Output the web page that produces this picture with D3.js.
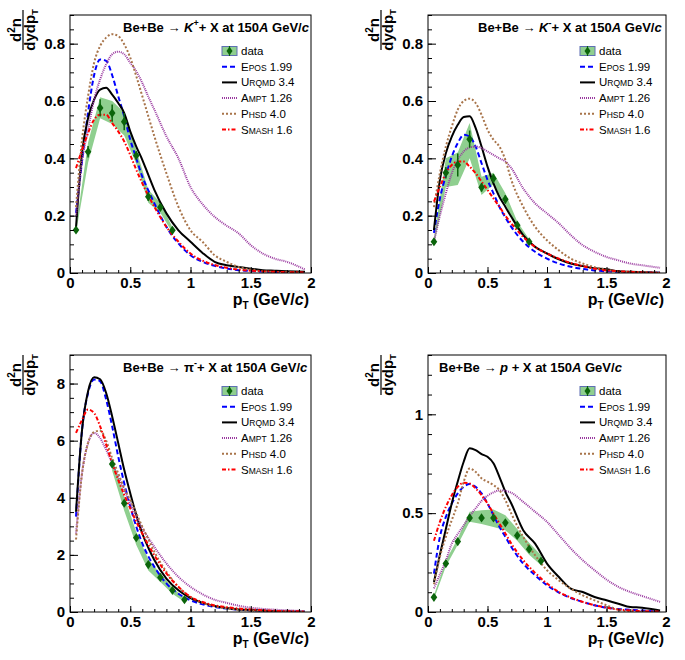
<!DOCTYPE html>
<html><head><meta charset="utf-8">
<script src="https://cdn.jsdelivr.net/npm/d3@7"></script>
<style>
body{margin:0;background:#fff}
svg{display:block}
text{font-family:"Liberation Sans",Arial,Helvetica,sans-serif}
</style>
</head><body>
<svg id="c" width="685" height="660"></svg>
<script>
// ---------------- DATA ----------------
const modelGrid = [0.05,0.1,0.15,0.2,0.25,0.3,0.35,0.4,0.45,0.5,0.55,0.6,0.65,0.7,0.8,0.9,1.0,1.1,1.2,1.3,1.4,1.5,1.6,1.7,1.8,1.95];
const modelKeys = ["EPOS","UrQMD","AMPT","PHSD","SMASH"];
const legendLabels = [["E","POS"," 1.99"],["U","rQMD"," 3.4"],["A","MPT"," 1.26"],["P","HSD"," 4.0"],["S","MASH"," 1.6"]];
const xTickValues = [0,0.5,1,1.5,2];
const xTickLabels = ["0","0.5","1","1.5","2"];

// K+ panel
const kpX = [0.05,0.15,0.25,0.35,0.45,0.55,0.65,0.75,0.85];
const kpY = [0.150,0.423,0.576,0.558,0.528,0.410,0.266,0.229,0.149];
const kpStat = [0.008,0.02,0.03,0.03,0.03,0.015,0.015,0.012,0.01];
const kpBandLo = [0.14,0.385,0.54,0.52,0.48,0.38,0.245,0.21,0.14];
const kpBandHi = [0.16,0.455,0.613,0.60,0.56,0.43,0.29,0.245,0.16];
const kpEPOS  = [0.21,0.39,0.56,0.69,0.745,0.74,0.69,0.617,0.547,0.465,0.40,0.336,0.288,0.243,0.161,0.103,0.062,0.039,0.025,0.016,0.01,0.007,0.005,0.003,0.002,0.001];
const kpUrQMD = [0.16,0.42,0.54,0.605,0.64,0.646,0.622,0.593,0.558,0.494,0.441,0.395,0.342,0.29,0.208,0.149,0.109,0.07,0.039,0.027,0.021,0.015,0.01,0.008,0.006,0.004];
const kpAMPT  = [0.2,0.39,0.5,0.605,0.675,0.728,0.763,0.772,0.763,0.733,0.704,0.663,0.615,0.57,0.477,0.40,0.30,0.24,0.196,0.165,0.138,0.097,0.068,0.05,0.039,0.012];
const kpPHSD  = [0.23,0.465,0.617,0.733,0.792,0.821,0.833,0.827,0.798,0.751,0.687,0.617,0.547,0.477,0.348,0.231,0.149,0.109,0.062,0.039,0.021,0.012,0.006,0.004,0.003,0.0];
const kpSMASH = [0.366,0.43,0.488,0.535,0.552,0.552,0.523,0.494,0.459,0.412,0.36,0.313,0.27,0.231,0.161,0.109,0.068,0.043,0.028,0.018,0.012,0.008,0.006,0.004,0.003,0.002];

// K- panel
const kmX = [0.05,0.15,0.25,0.35,0.45,0.55,0.65,0.75,0.85];
const kmY = [0.109,0.35,0.377,0.467,0.299,0.33,0.257,0.167,0.109];
const kmStat = [0.01,0.02,0.04,0.03,0.015,0.015,0.015,0.01,0.01];
const kmBandLo = [0.095,0.30,0.307,0.40,0.272,0.31,0.24,0.155,0.10];
const kmBandHi = [0.12,0.40,0.42,0.523,0.336,0.35,0.278,0.18,0.118];
const kmEPOS  = [0.14,0.26,0.34,0.406,0.453,0.482,0.476,0.441,0.383,0.325,0.278,0.231,0.194,0.161,0.109,0.074,0.05,0.033,0.022,0.014,0.009,0.006,0.004,0.003,0.002,0.001];
const kmUrQMD = [0.15,0.325,0.418,0.476,0.517,0.544,0.547,0.506,0.441,0.371,0.313,0.266,0.231,0.196,0.132,0.091,0.068,0.048,0.033,0.024,0.017,0.013,0.006,0.004,0.003,0.001];
const kmAMPT  = [0.11,0.2,0.278,0.348,0.395,0.424,0.438,0.441,0.436,0.424,0.412,0.40,0.389,0.366,0.295,0.243,0.208,0.173,0.132,0.097,0.074,0.056,0.044,0.033,0.027,0.018];
const kmPHSD  = [0.23,0.348,0.441,0.511,0.57,0.60,0.608,0.593,0.552,0.50,0.465,0.441,0.395,0.325,0.231,0.161,0.114,0.079,0.05,0.033,0.02,0.012,0.005,0.003,0.002,0.0];
const kmSMASH = [0.249,0.301,0.348,0.377,0.389,0.389,0.371,0.348,0.319,0.29,0.26,0.231,0.20,0.173,0.126,0.091,0.068,0.05,0.035,0.024,0.015,0.009,0.006,0.004,0.002,0.001];

// pi- panel
const piX = [0.35,0.45,0.55,0.65,0.75,0.85,0.95];
const piY = [5.18,3.81,2.60,1.66,1.21,0.76,0.43];
const piStat = [0.1,0.1,0.08,0.06,0.05,0.04,0.03];
const piBandLo = [4.95,3.55,2.35,1.45,1.05,0.64,0.35];
const piBandHi = [5.40,4.05,2.80,1.85,1.35,0.86,0.50];
const piEPOS  = [3.34,6.38,7.67,8.14,8.08,7.44,6.5,5.45,4.51,3.69,2.99,2.4,1.95,1.58,1.0,0.64,0.41,0.27,0.18,0.12,0.08,0.06,0.04,0.03,0.02,0.01];
const piUrQMD = [3.51,6.38,7.73,8.22,8.15,7.67,6.85,5.92,4.98,4.16,3.4,2.75,2.25,1.82,1.17,0.76,0.49,0.32,0.21,0.14,0.09,0.07,0.05,0.03,0.02,0.01];
const piAMPT  = [2.75,4.86,5.92,6.27,6.09,5.68,5.21,4.74,4.28,3.81,3.34,2.93,2.6,2.28,1.7,1.23,0.88,0.62,0.43,0.32,0.22,0.15,0.11,0.08,0.06,0.03];
const piPHSD  = [2.54,4.86,5.92,6.3,6.35,6.0,5.39,4.86,4.33,3.92,3.46,2.99,2.55,2.11,1.41,0.88,0.53,0.32,0.2,0.13,0.08,0.05,0.03,0.02,0.01,0.0];
const piSMASH = [6.27,6.73,7.09,6.97,6.5,5.86,5.21,4.63,4.1,3.63,3.16,2.75,2.35,1.99,1.35,0.88,0.53,0.35,0.23,0.17,0.12,0.09,0.06,0.04,0.03,0.02];

// p panel
const prX = [0.05,0.15,0.25,0.35,0.45,0.55,0.65,0.75,0.85,0.95];
const prY = [0.074,0.245,0.356,0.476,0.476,0.476,0.451,0.387,0.318,0.258];
const prStat = [0.01,0.01,0.01,0.015,0.015,0.015,0.015,0.015,0.015,0.015];
const prBandLo = [0.065,0.23,0.34,0.456,0.445,0.43,0.414,0.36,0.29,0.237];
const prBandHi = [0.085,0.26,0.372,0.507,0.515,0.519,0.49,0.42,0.35,0.287];
const prEPOS  = [0.194,0.38,0.481,0.549,0.60,0.633,0.647,0.633,0.60,0.549,0.49,0.431,0.38,0.329,0.245,0.186,0.135,0.098,0.071,0.051,0.034,0.022,0.015,0.011,0.007,0.003];
const prUrQMD = [0.152,0.29,0.42,0.55,0.66,0.76,0.828,0.819,0.799,0.785,0.752,0.684,0.608,0.549,0.414,0.346,0.245,0.177,0.118,0.101,0.076,0.059,0.042,0.025,0.022,0.008];
const prAMPT  = [0.12,0.19,0.26,0.346,0.394,0.439,0.485,0.524,0.562,0.588,0.605,0.615,0.613,0.603,0.557,0.507,0.456,0.389,0.321,0.262,0.211,0.164,0.127,0.101,0.081,0.051];
const prPHSD  = [0.14,0.279,0.38,0.465,0.549,0.659,0.726,0.709,0.676,0.659,0.642,0.617,0.566,0.498,0.38,0.287,0.211,0.16,0.118,0.084,0.059,0.034,0.012,0.003,0.001,0.0];
const prSMASH = [0.36,0.456,0.532,0.591,0.633,0.654,0.65,0.625,0.591,0.549,0.498,0.448,0.397,0.346,0.262,0.198,0.144,0.101,0.073,0.051,0.034,0.022,0.012,0.008,0.005,0.002];

// titles: [text, style] style: n normal, i italic, s superscript
const kpTitle = [["Be+Be ","n"],["\u2192","n"],[" ","n"],["K","i"],["+","s"],["+ X at 150","n"],["A","i"],[" GeV/","n"],["c","i"]];
const kmTitle = [["Be+Be ","n"],["\u2192","n"],[" ","n"],["K","i"],["-","s"],["+ X at 150","n"],["A","i"],[" GeV/","n"],["c","i"]];
const piTitle = [["Be+Be ","n"],["\u2192","n"],["  \u03c0","n"],["-","s"],["+ X at 150","n"],["A","i"],[" GeV/","n"],["c","i"]];
const prTitle = [["Be+Be ","n"],["\u2192","n"],[" ","n"],["p","i"],[" + X at 150","n"],["A","i"],[" GeV/","n"],["c","i"]];

const kpYTicks = [0,0.2,0.4,0.6,0.8], kpYLabels = ["0","0.2","0.4","0.6","0.8"];
const piYTicks = [0,2,4,6,8], piYLabels = ["0","2","4","6","8"];
const prYTicks = [0,0.5,1], prYLabels = ["0","0.5","1"];

// ---------------- STYLE / LAYOUT ----------------
const styles = {
  EPOS:  {color:"#0000ff", dash:"5,3"},
  UrQMD: {color:"#000000", dash:null},
  AMPT:  {color:"#9a3aa0", dash:"1,1"},
  PHSD:  {color:"#a8744a", dash:"2,2"},
  SMASH: {color:"#ff0000", dash:"4,2,1.5,2"}
};
const panels = [
  {left:70, top:15, w:241, h:258, ymax:0.9, yt:kpYTicks, yl:kpYLabels, yminor:0.05,
   dx:kpX, dy:kpY, stat:kpStat, lo:kpBandLo, hi:kpBandHi,
   models:{EPOS:kpEPOS,UrQMD:kpUrQMD,AMPT:kpAMPT,PHSD:kpPHSD,SMASH:kpSMASH}, title:kpTitle, tx:53, ytc:15},
  {left:428, top:15, w:238, h:258, ymax:0.9, yt:kpYTicks, yl:kpYLabels, yminor:0.05,
   dx:kmX, dy:kmY, stat:kmStat, lo:kmBandLo, hi:kmBandHi,
   models:{EPOS:kmEPOS,UrQMD:kmUrQMD,AMPT:kmAMPT,PHSD:kmPHSD,SMASH:kmSMASH}, title:kmTitle, tx:50, ytc:15},
  {left:70, top:355, w:241, h:257, ymax:9, yt:piYTicks, yl:piYLabels, yminor:0.5,
   dx:piX, dy:piY, stat:piStat, lo:piBandLo, hi:piBandHi,
   models:{EPOS:piEPOS,UrQMD:piUrQMD,AMPT:piAMPT,PHSD:piPHSD,SMASH:piSMASH}, title:piTitle, tx:53, ytc:20},
  {left:428, top:355, w:238, h:257, ymax:1.3, yt:prYTicks, yl:prYLabels, yminor:0.1,
   dx:prX, dy:prY, stat:prStat, lo:prBandLo, hi:prBandHi,
   models:{EPOS:prEPOS,UrQMD:prUrQMD,AMPT:prAMPT,PHSD:prPHSD,SMASH:prSMASH}, title:prTitle, tx:11, ytc:20}
];

const svg = d3.select("#c");
const BAND = "#8fcf8f", MARK = "#0b640b";

function diamond(cx, cy, a, b){ return `M${cx},${cy-b}L${cx+a},${cy}L${cx},${cy+b}L${cx-a},${cy}Z`; }

panels.forEach((P, pi) => {
  const g = svg.append("g");
  const x = d3.scaleLinear().domain([0,2]).range([P.left, P.left+P.w]);
  const y = d3.scaleLinear().domain([0,P.ymax]).range([P.top+P.h, P.top]);
  const cid = "clip"+pi;
  svg.append("clipPath").attr("id",cid).append("rect")
    .attr("x",P.left).attr("y",P.top).attr("width",P.w).attr("height",P.h);
  const plot = g.append("g").attr("clip-path",`url(#${cid})`);

  // band
  const bandData = P.dx.map((v,i)=>({x:v, lo:P.lo[i], hi:P.hi[i]}));
  plot.append("path").datum(bandData)
    .attr("d", d3.area().x(d=>x(d.x)).y0(d=>y(d.lo)).y1(d=>y(d.hi)))
    .attr("fill", BAND).attr("stroke","none");

  // models
  const line = d3.line().x(d=>x(d[0])).y(d=>y(d[1])).curve(d3.curveMonotoneX);
  modelKeys.forEach(k => {
    const pts = modelGrid.map((v,i)=>[v, P.models[k][i]]);
    const s = styles[k];
    plot.append("path").datum(pts).attr("d", line)
      .attr("fill","none").attr("stroke", s.color).attr("stroke-width", 2)
      .attr("stroke-dasharray", s.dash);
  });

  // data
  P.dx.forEach((v,i)=>{
    plot.append("line").attr("x1",x(v)).attr("x2",x(v))
      .attr("y1",y(P.dy[i]-P.stat[i])).attr("y2",y(P.dy[i]+P.stat[i]))
      .attr("stroke",MARK).attr("stroke-width",1.5);
    plot.append("path").attr("d", diamond(x(v), y(P.dy[i]), 3.3, 4.6)).attr("fill",MARK);
  });

  // frame
  g.append("rect").attr("x",P.left).attr("y",P.top).attr("width",P.w).attr("height",P.h)
    .attr("fill","none").attr("stroke","#000").attr("stroke-width",1);

  // x axis
  const xa = g.append("g").attr("transform",`translate(0,${P.top+P.h})`)
    .call(d3.axisBottom(x).tickValues(xTickValues).tickSize(-6).tickPadding(4)
      .tickFormat((d,i)=>xTickLabels[i]));
  const xm = g.append("g").attr("transform",`translate(0,${P.top+P.h})`)
    .call(d3.axisBottom(x).tickValues(d3.range(0,2.0001,0.1)).tickSize(-3).tickFormat(""));
  // y axis
  const ya = g.append("g").attr("transform",`translate(${P.left},0)`)
    .call(d3.axisLeft(y).tickValues(P.yt).tickSize(-8).tickPadding(5)
      .tickFormat((d,i)=>P.yl[i]));
  const nMinor = Math.round(P.ymax / P.yminor);
  const ym = g.append("g").attr("transform",`translate(${P.left},0)`)
    .call(d3.axisLeft(y).tickValues(d3.range(0,nMinor+1).map(i=>i*P.yminor)).tickSize(-4).tickFormat(""));
  [xa,xm,ya,ym].forEach(a=>{ a.select(".domain").remove(); a.selectAll("line").attr("stroke","#000"); });
  [xa,ya].forEach(a=>a.selectAll("text").attr("font-size",15).attr("font-weight","bold")
    .attr("fill","#000").attr("font-family","'Liberation Sans',Arial,sans-serif"));

  // x title
  const xt = g.append("text").attr("x",P.left+P.w-2).attr("y",P.top+P.h+32)
    .attr("text-anchor","end").attr("font-size",16).attr("font-weight","bold");
  xt.append("tspan").text("p");
  xt.append("tspan").attr("font-size",10).attr("dy",4).text("T");
  xt.append("tspan").attr("dy",-4).text(" (GeV/");
  xt.append("tspan").attr("font-style","italic").text("c");
  xt.append("tspan").text(")");

  // y title (fraction)
  const cy = P.top + P.ytc;
  const yg = g.append("g").attr("transform",`translate(${P.left-49},${cy}) rotate(-90)`);
  const num = yg.append("text").attr("x",0).attr("y",0).attr("text-anchor","middle")
    .attr("font-size",15).attr("font-weight","bold");
  num.append("tspan").text("d");
  num.append("tspan").attr("font-size",10).attr("dy",-6).text("2");
  num.append("tspan").attr("dy",6).text("n");
  yg.append("line").attr("x1",-20).attr("x2",20).attr("y1",2).attr("y2",2)
    .attr("stroke","#000").attr("stroke-width",1.2);
  const den = yg.append("text").attr("x",0).attr("y",14).attr("text-anchor","middle")
    .attr("font-size",15).attr("font-weight","bold");
  den.append("tspan").text("dydp");
  den.append("tspan").attr("font-size",9).attr("dy",3).text("T");

  // panel title
  const t = g.append("text").attr("x",P.left+P.tx).attr("y",P.top+17)
    .attr("font-size",13).attr("font-weight","bold");
  let shifted = false;
  P.title.forEach(([txt, st])=>{
    const ts = t.append("tspan").text(txt);
    if (st==="i") ts.attr("font-style","italic");
    if (st==="s") { ts.attr("font-size",9).attr("dy",-6); shifted = true; }
    else if (shifted) { ts.attr("dy",6); shifted = false; }
  });

  // legend
  const lx0 = P.left+152, lx1 = P.left+167, ltx = P.left+171;
  const rowY = i => P.top + 36 + i*15.7;
  g.append("rect").attr("x",lx0).attr("y",rowY(0)-4.5).attr("width",lx1-lx0).attr("height",9)
    .attr("fill",BAND).attr("stroke","#5f6fb4").attr("stroke-width",1);
  g.append("line").attr("x1",(lx0+lx1)/2).attr("x2",(lx0+lx1)/2).attr("y1",rowY(0)-5).attr("y2",rowY(0)+5)
    .attr("stroke",MARK).attr("stroke-width",1.2);
  g.append("path").attr("d",diamond((lx0+lx1)/2,rowY(0),3,4.2)).attr("fill",MARK);
  g.append("text").attr("x",ltx).attr("y",rowY(0)+4).attr("font-size",11.5).text("data");
  modelKeys.forEach((k,i)=>{
    const yy = rowY(i+1), s = styles[k];
    g.append("line").attr("x1",lx0).attr("x2",lx1).attr("y1",yy).attr("y2",yy)
      .attr("stroke",s.color).attr("stroke-width",2).attr("stroke-dasharray",s.dash);
    const tt = g.append("text").attr("x",ltx).attr("y",yy+4).attr("font-size",11.5);
    const L = legendLabels[i];
    tt.append("tspan").text(L[0]);
    tt.append("tspan").attr("font-size",8.5).text(L[1].toUpperCase());
    tt.append("tspan").text(L[2]);
  });
});
</script>
</body></html>
